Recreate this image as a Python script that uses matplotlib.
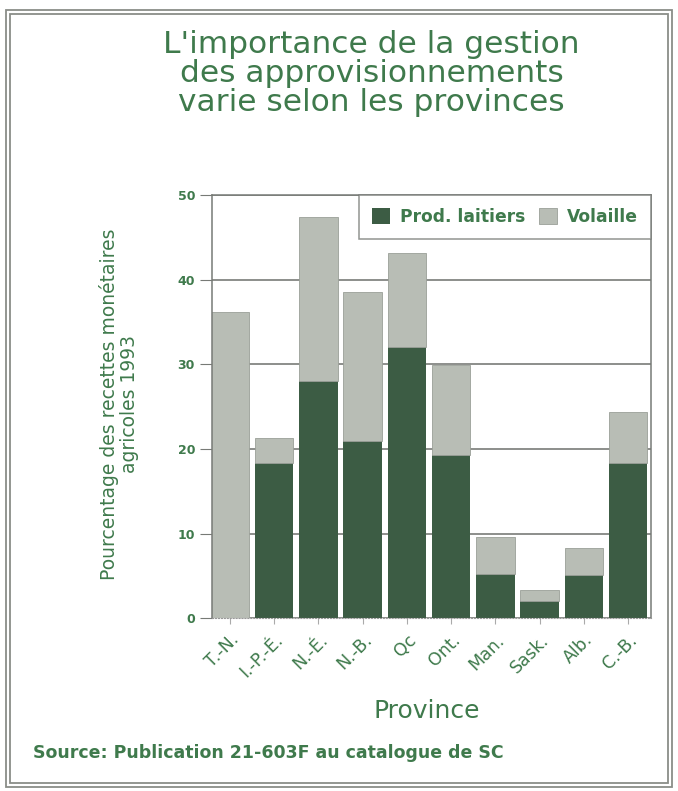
import matplotlib.pyplot as plt
from matplotlib.patches import Rectangle
import numpy as np

plt.rcParams['font.family'] = ['DejaVu Sans']

# Part des recettes monétaires agricoles 1993 (%)
provinces = ['T.-N.', 'I.-P.-É.', 'N.-É.', 'N.-B.', 'Qc', 'Ont.', 'Man.', 'Sask.', 'Alb.', 'C.-B.']
laitiers = [0.0, 18.4, 28.0, 20.9, 32.0, 19.3, 5.2, 2.0, 5.1, 18.3]
volaille = [36.2, 2.9, 19.4, 17.7, 11.1, 10.6, 4.4, 1.3, 3.2, 6.1]
yticks = [0, 10, 20, 30, 40, 50]

green_txt = '#3f7a4c'
dark = '#3c5c44'
light = '#b8bdb5'
edge = '#777a76'

fig = plt.figure(figsize=(6.78, 7.91), dpi=100)
ax = fig.add_axes([0.3122, 0.2183, 0.6475, 0.5352])

x = np.arange(len(provinces))
ax.bar(x, laitiers, width=0.87, color=dark, edgecolor='none', zorder=2,
       label='Prod. laitiers')
ax.bar(x, volaille, width=0.87, bottom=laitiers, color=light, edgecolor='#9a9f98',
       linewidth=0.6, zorder=2, label='Volaille')

ax.set_xlim(-0.41, 9.51)
ax.set_ylim(0, 50)
ax.set_yticks(yticks)
ax.set_yticklabels([str(v) for v in yticks], fontsize=9, color=green_txt,
                   fontweight='bold')
ax.yaxis.grid(True, color='#6d706c', linewidth=1.1, zorder=0)
ax.set_axisbelow(True)
ax.tick_params(axis='y', length=9, color=edge, pad=3)
ax.tick_params(axis='x', length=4, color='#aaaaaa', direction='out', pad=5)

ax.set_xticks(x)
ax.set_xticklabels(provinces, rotation=45, ha='right', rotation_mode='anchor',
                   fontsize=12.5, color=green_txt)

for side in ['left', 'right', 'top']:
    ax.spines[side].set_color(edge)
    ax.spines[side].set_linewidth(1.1)
ax.spines['bottom'].set_color('#999999')
ax.spines['bottom'].set_linestyle(':')

leg = ax.legend(ncol=2, loc='upper right', borderaxespad=0, fancybox=False,
                edgecolor=edge, fontsize=12.3, handlelength=1.1, handleheight=1.1,
                handletextpad=0.55, columnspacing=0.8, borderpad=0.75)
leg.get_frame().set_linewidth(1.1)
for t in leg.get_texts():
    t.set_color(green_txt)
    t.set_fontweight('bold')

fig.text(0.548, 0.962, "L'importance de la gestion\ndes approvisionnements\nvarie selon les provinces",
         ha='center', va='top', fontsize=22.5, color=green_txt, linespacing=1.0)

fig.text(0.176, 0.489, 'Pourcentage des recettes monétaires\nagricoles 1993',
         rotation=90, ha='center', va='center', multialignment='center',
         fontsize=13.5, color=green_txt, linespacing=1.05)

fig.text(0.630, 0.101, 'Province', ha='center', va='center', fontsize=18,
         color=green_txt)

fig.text(0.048, 0.048, 'Source: Publication 21-603F au catalogue de SC',
         ha='left', va='center', fontsize=12.5, color=green_txt, fontweight='bold')

# double cadre autour de la figure
for (x0, y0, x1, y1) in [(6, 10, 672, 787), (10, 14, 668, 783)]:
    fig.patches.append(Rectangle((x0 / 678, 1 - y1 / 791), (x1 - x0) / 678,
                                 (y1 - y0) / 791, transform=fig.transFigure,
                                 fill=False, edgecolor='#8a8d88', linewidth=1.3))

fig.savefig('out.png', dpi=100)
